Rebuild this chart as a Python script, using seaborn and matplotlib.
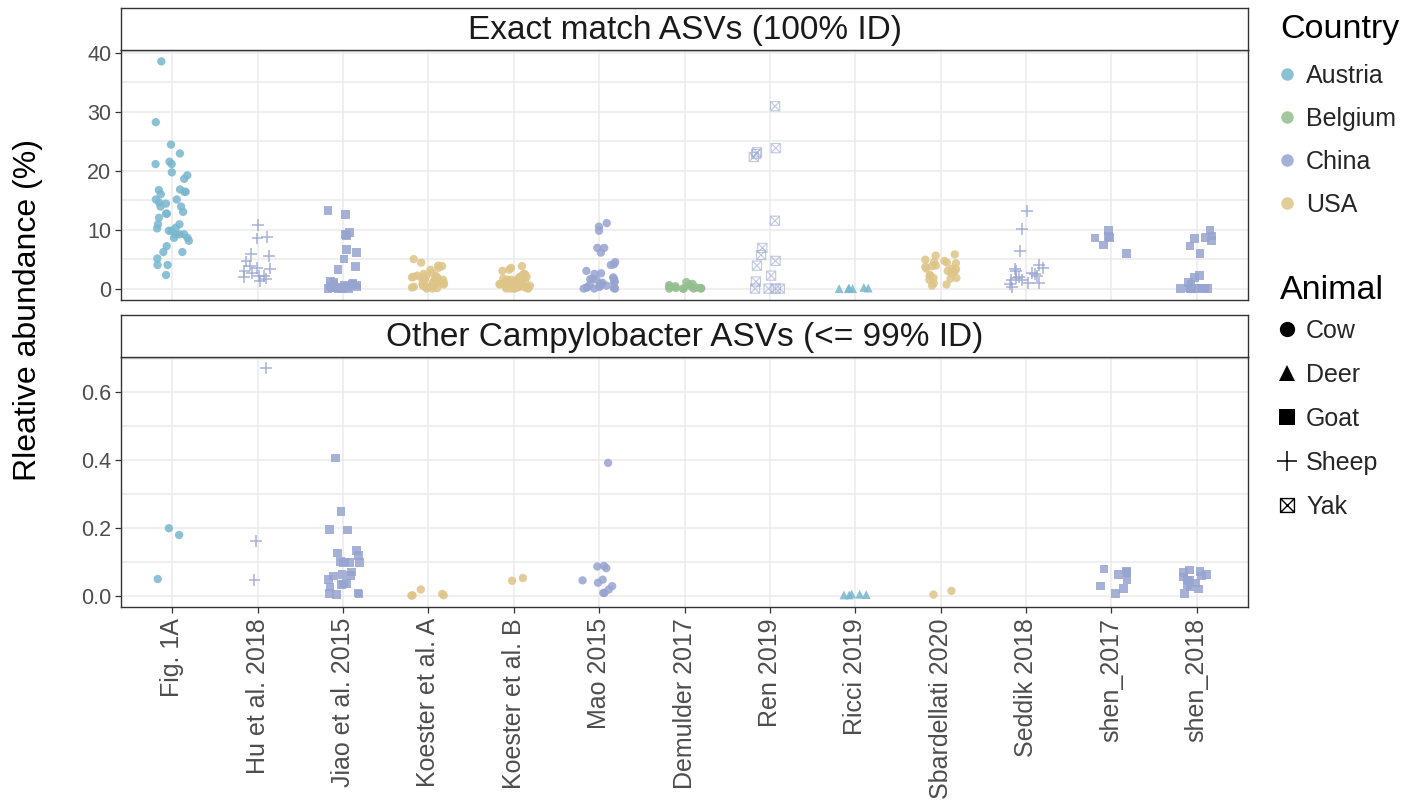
import numpy as np
import pandas as pd
import matplotlib
matplotlib.use("Agg")
import matplotlib.pyplot as plt
from matplotlib.lines import Line2D
from matplotlib.path import Path
from matplotlib.ticker import MultipleLocator
import seaborn as sns

# ---------------------------------------------------------------- data
studies = ["Fig. 1A", "Hu et al. 2018", "Jiao et al. 2015", "Koester et al. A",
           "Koester et al. B", "Mao 2015", "Demulder 2017", "Ren 2019",
           "Ricci 2019", "Sbardellati 2020", "Seddik 2018", "shen_2017", "shen_2018"]
study_country = ["Austria", "China", "China", "USA", "USA", "China", "Belgium",
                 "China", "Austria", "USA", "China", "China", "China"]
study_animal = ["Cow", "Sheep", "Goat", "Cow", "Cow", "Cow", "Cow",
                "Yak", "Deer", "Cow", "Sheep", "Goat", "Goat"]

countries = ["Austria", "Belgium", "China", "USA"]
country_colors = ["#78B7CE", "#93BE8D", "#97A4D0", "#DEC487"]
animals = ["Cow", "Deer", "Goat", "Sheep", "Yak"]

panel_titles = ["Exact match ASVs (100% ID)", "Other Campylobacter ASVs (<= 99% ID)"]

# relative abundance (%) of exact-match ASVs
exact_fig1a = [38.5, 28.2, 24.4, 22.9, 21.5, 21.1, 21.1, 19.7, 19.2, 18.6, 16.8, 16.7,
               16.4, 16.4, 16.0, 15.1, 15.1, 14.6, 14.4, 13.9, 13.9, 13.0, 12.7, 12.7,
               12.0, 10.9, 10.9, 10.3, 10.2, 9.8, 9.8, 9.2, 9.2, 9.2, 8.6, 8.6, 8.1,
               7.2, 6.2, 6.2, 5.1, 4.0, 4.0, 2.3]
exact_hu = [10.8, 8.7, 8.5, 5.9, 5.5, 4.6, 3.9, 3.5, 3.4, 3.0, 2.6, 2.2, 2.1, 2.0, 1.7, 1.3]
exact_jiao = [13.2, 12.6, 9.5, 9.2, 9.0, 6.6, 6.1, 5.0, 3.7, 3.2, 1.2, 1.0, 0.9, 0.8,
              0.7, 0.6, 0.5, 0.5, 0.4, 0.3, 0.3, 0.2, 0.2, 0.1, 0.1, 0.1, 0.0, 0.0,
              0.0, 0.0]
exact_koester_a = [5.0, 4.4, 3.9, 3.8, 3.5, 3.2, 2.6, 2.5, 2.2, 2.1, 2.1, 2.0, 1.9, 1.8,
                   1.8, 1.7, 1.6, 1.5, 1.5, 1.4, 1.3, 1.2, 1.2, 1.1, 1.0, 0.9, 0.8, 0.8,
                   0.7, 0.6, 0.5, 0.4, 0.3, 0.3, 0.2, 0.1, 0.0, 0.0]
exact_koester_b = [3.8, 3.5, 3.2, 3.0, 2.5, 2.4, 2.2, 2.0, 1.9, 1.8, 1.7, 1.6, 1.5, 1.5,
                   1.4, 1.3, 1.3, 1.2, 1.1, 1.0, 1.0, 0.9, 0.9, 0.8, 0.7, 0.7, 0.6, 0.5,
                   0.5, 0.4, 0.3, 0.3, 0.2, 0.2, 0.1, 0.1, 0.0, 0.0, 0.0, 0.0]
exact_mao = [11.1, 10.5, 9.8, 6.9, 6.9, 6.1, 4.5, 4.1, 4.0, 3.0, 2.6, 2.5, 1.9, 1.7,
             1.7, 1.6, 1.5, 1.2, 1.0, 1.0, 0.8, 0.6, 0.5, 0.4, 0.3, 0.2, 0.2, 0.1,
             0.1, 0.0, 0.0, 0.0]
exact_demulder = [1.1, 0.8, 0.7, 0.6, 0.4, 0.3, 0.3, 0.2, 0.1, 0.1, 0.0, 0.0, 0.0, 0.0, 0.0]
exact_ren = [30.9, 23.8, 23.1, 22.8, 22.3, 11.5, 6.9, 5.7, 4.7, 3.9, 2.2, 1.2,
             0.0, 0.0, 0.0, 0.0]
exact_ricci = [0.2, 0.1, 0.1, 0.0, 0.0, 0.0]
exact_sbardellati = [5.8, 5.6, 4.9, 4.7, 4.5, 4.4, 4.3, 3.9, 3.8, 3.7, 3.4, 3.4, 3.3,
                     3.0, 2.9, 2.6, 2.3, 2.2, 1.8, 1.8, 1.7, 1.5, 0.9, 0.7, 0.5]
exact_seddik = [13.1, 10.1, 6.4, 4.0, 3.5, 3.3, 3.0, 2.7, 2.5, 2.1, 2.0, 1.8, 1.5, 1.4,
                1.0, 0.9, 0.7, 0.2]
exact_shen_2017 = [9.8, 8.8, 8.7, 8.6, 7.4, 6.0]
exact_shen_2018 = [9.8, 8.9, 8.7, 8.5, 8.1, 7.2, 6.0, 2.2, 1.9, 1.0, 0.7, 0.1, 0.1,
                   0.0, 0.0, 0.0, 0.0, 0.0, 0.0, 0.0]

# relative abundance (%) of other Campylobacter ASVs
other_fig1a = [0.199, 0.179, 0.049]
other_hu = [0.671, 0.161, 0.047]
other_jiao = [0.406, 0.248, 0.195, 0.194, 0.133, 0.126, 0.119, 0.100, 0.099, 0.098,
              0.097, 0.096, 0.070, 0.062, 0.060, 0.058, 0.047, 0.035, 0.034, 0.033,
              0.026, 0.008, 0.006, 0.005, 0.004]
other_koester_a = [0.018, 0.005, 0.001, 0.001, 0.0]
other_koester_b = [0.052, 0.044]
other_mao = [0.392, 0.088, 0.086, 0.081, 0.047, 0.045, 0.038, 0.028, 0.018, 0.008, 0.008]
other_demulder = []
other_ren = []
other_ricci = [0.005, 0.004, 0.003, 0.002, 0.002]
other_sbardellati = [0.014, 0.003]
other_seddik = []
other_shen_2017 = [0.079, 0.073, 0.069, 0.063, 0.047, 0.028, 0.021, 0.006]
other_shen_2018 = [0.076, 0.072, 0.069, 0.063, 0.058, 0.055, 0.046, 0.044, 0.037,
                   0.032, 0.026, 0.020, 0.006]

exact_values = [exact_fig1a, exact_hu, exact_jiao, exact_koester_a, exact_koester_b,
                exact_mao, exact_demulder, exact_ren, exact_ricci, exact_sbardellati,
                exact_seddik, exact_shen_2017, exact_shen_2018]
other_values = [other_fig1a, other_hu, other_jiao, other_koester_a, other_koester_b,
                other_mao, other_demulder, other_ren, other_ricci, other_sbardellati,
                other_seddik, other_shen_2017, other_shen_2018]

rows = []
for panel, series in zip(panel_titles, [exact_values, other_values]):
    for study, country, animal, vals in zip(studies, study_country, study_animal, series):
        for v in vals:
            rows.append((panel, study, country, animal, v))
df = pd.DataFrame(rows, columns=["panel", "study", "country", "animal", "value"])

# ---------------------------------------------------------------- markers
yak_marker = Path(
    [(-1, -1), (1, -1), (1, 1), (-1, 1), (-1, -1), (-1, -1), (1, 1), (-1, 1), (1, -1)],
    [Path.MOVETO, Path.LINETO, Path.LINETO, Path.LINETO, Path.CLOSEPOLY,
     Path.MOVETO, Path.LINETO, Path.MOVETO, Path.LINETO])
animal_markers = {"Cow": "o", "Deer": "^", "Goat": "s", "Sheep": "+", "Yak": yak_marker}
animal_sizes = {"Cow": 6.0, "Deer": 6.4, "Goat": 6.2, "Sheep": 8.5, "Yak": 6.6}
palette = dict(zip(countries, country_colors))

# ---------------------------------------------------------------- figure
sns.set_theme(style="white")
plt.rcParams["font.family"] = ["Liberation Sans", "DejaVu Sans"]

W, H = 1416, 807
fig = plt.figure(figsize=(W / 100, H / 100), dpi=100)
ax_top = fig.add_axes([121 / W, 1 - 300 / H, 1127 / W, 250 / H])
ax_bot = fig.add_axes([121 / W, 1 - 607 / H, 1127 / W, 250 / H])
strip_top = fig.add_axes([121 / W, 1 - 50 / H, 1127 / W, 42 / H])
strip_bot = fig.add_axes([121 / W, 1 - 357 / H, 1127 / W, 42 / H])

np.random.seed(11)
grid_col = "#EBEBEB"
border_col = "#333333"
tick_col = "#4D4D4D"

for ax, panel in zip([ax_top, ax_bot], panel_titles):
    pdf = df[df["panel"] == panel]
    for animal in animals:
        sub = pdf[pdf["animal"] == animal]
        if sub.empty:
            continue
        n0 = len(ax.collections)
        sns.stripplot(data=sub, x="study", y="value", hue="country", order=studies,
                      hue_order=countries, palette=palette, marker=animal_markers[animal],
                      size=animal_sizes[animal], jitter=0.2, alpha=0.85, linewidth=0,
                      legend=False, ax=ax, zorder=3)
        for coll in ax.collections[n0:]:
            fc = coll.get_facecolors()
            if animal == "Sheep":
                coll.set_edgecolors(fc)
                coll.set_linewidths(1.1)
            elif animal == "Yak":
                coll.set_edgecolors(fc)
                coll.set_facecolors("none")
                coll.set_linewidths(0.8)
                coll.set_alpha(0.6)

    ax.set_xlim(-0.6, len(studies) - 0.4)
    ax.set_xlabel("")
    ax.set_ylabel("")
    ax.set_axisbelow(True)
    ax.grid(True, which="major", axis="both", color=grid_col, lw=1.1, zorder=0)
    ax.grid(True, which="minor", axis="y", color=grid_col, lw=1.1, zorder=0)
    for sp in ax.spines.values():
        sp.set_color(border_col)
        sp.set_linewidth(1.0)
    ax.tick_params(which="major", length=4, width=0.9, color=border_col,
                   labelsize=15.5, labelcolor=tick_col, left=True, bottom=True, pad=3)
    ax.tick_params(which="minor", length=0)

ax_top.set_ylim(-1.93, 40.43)
ax_top.yaxis.set_major_locator(MultipleLocator(10))
ax_top.yaxis.set_minor_locator(MultipleLocator(5))
ax_top.tick_params(axis="x", labelbottom=False, length=0)

ax_bot.set_ylim(-0.0336, 0.7046)
ax_bot.yaxis.set_major_locator(MultipleLocator(0.2))
ax_bot.yaxis.set_minor_locator(MultipleLocator(0.1))
ax_bot.set_xticks(range(len(studies)))
ax_bot.set_xticklabels(studies, rotation=90)
ax_bot.tick_params(axis="x", labelsize=18, pad=4)

for sax, title in zip([strip_top, strip_bot], panel_titles):
    sax.set_xticks([])
    sax.set_yticks([])
    sax.set_facecolor("white")
    for sp in sax.spines.values():
        sp.set_color(border_col)
        sp.set_linewidth(1.0)
    sax.text(0.5, 0.46, title, ha="center", va="center", fontsize=24,
             color="#1A1A1A", transform=sax.transAxes)

fig.text(28 / W, 1 - 310 / H, "Rleative abundance (%)", rotation=90,
         ha="center", va="center", fontsize=23, color="black")

# ---------------------------------------------------------------- legends
fig.text(1280 / W, 1 - 38 / H, "Country", ha="left", va="baseline",
         fontsize=24.5, color="black")
fig.text(1280 / W, 1 - 299 / H, "Animal", ha="left", va="baseline",
         fontsize=24.5, color="black")

country_handles = [Line2D([], [], marker="o", ls="none", color=c, alpha=0.85,
                          markersize=9, markeredgewidth=0) for c in country_colors]
fig.legend(country_handles, countries, loc="upper left",
           bbox_to_anchor=(1279.5 / W, 1 - 64 / H), frameon=False, fontsize=18,
           labelspacing=0.76, handletextpad=0.46, handlelength=0.6,
           borderaxespad=0, borderpad=0)

animal_handles = []
for animal in animals:
    m = animal_markers[animal]
    if animal == "Sheep":
        h = Line2D([], [], marker=m, ls="none", color="black", markersize=14,
                   markeredgewidth=1.1)
    elif animal == "Yak":
        h = Line2D([], [], marker=m, ls="none", markerfacecolor="none",
                   markeredgecolor="black", markersize=10, markeredgewidth=1.0)
    else:
        h = Line2D([], [], marker=m, ls="none", color="black", markersize=11,
                   markeredgewidth=0)
    animal_handles.append(h)
fig.legend(animal_handles, animals, loc="upper left",
           bbox_to_anchor=(1279.5 / W, 1 - 319 / H), frameon=False, fontsize=18,
           labelspacing=0.8, handletextpad=0.46, handlelength=0.6,
           borderaxespad=0, borderpad=0)

fig.savefig("out.png", dpi=100)
